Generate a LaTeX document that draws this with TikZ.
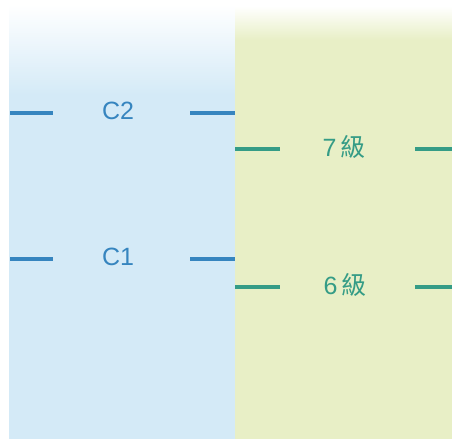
\documentclass[tikz,border=0pt]{standalone}
\usepackage{fontspec}
\setmainfont{Liberation Sans}
\newfontfamily\cjk{Noto Sans CJK TC}

\definecolor{cpanel}{HTML}{D4EAF7}
\definecolor{gpanel}{HTML}{E8EFC6}
\definecolor{ctext}{HTML}{3685BF}
\definecolor{gtext}{HTML}{359C86}

\tikzstyle{clab}=[inner sep=0pt, font=\fontsize{25}{25}\selectfont, text=ctext]
\tikzstyle{glab}=[inner sep=0pt, font=\fontsize{25}{25}\selectfont, text=gtext]
\tikzstyle{cdash}=[draw=ctext, line width=3.8pt]
\tikzstyle{gdash}=[draw=gtext, line width=3.8pt]

\begin{document}
\begin{tikzpicture}[x=1pt,y=-1pt]
        \useasboundingbox (0,0) rectangle (452,439);
        % panels
        \fill[white] (0,0) rectangle (452,439);
        \fill[cpanel] (9,95) rectangle (235,439);
        \shade[top color=white, bottom color=cpanel] (9,4) rectangle (235,95);
        \fill[gpanel] (235,40) rectangle (452,439);
        \shade[top color=white, bottom color=gpanel] (235,6) rectangle (452,40);
        %
        \draw (118,111) node[clab](c2){C2};
        \draw (118,257) node[clab](c1){C1};
        \draw (344,147) node[glab](g7){7{\hspace{0.15em}\cjk 級}};
        \draw (345,285) node[glab](g6){6{\hspace{0.15em}\cjk 級}};
        %
        \coordinate (c2a) at (10,113);  \coordinate (c2b) at (53,113);
        \coordinate (c2c) at (190,113); \coordinate (c2d) at (235,113);
        \coordinate (c1a) at (10,259);  \coordinate (c1b) at (53,259);
        \coordinate (c1c) at (190,259); \coordinate (c1d) at (235,259);
        \coordinate (g7a) at (235,149); \coordinate (g7b) at (280,149);
        \coordinate (g7c) at (415,149); \coordinate (g7d) at (452,149);
        \coordinate (g6a) at (235,287); \coordinate (g6b) at (280,287);
        \coordinate (g6c) at (415,287); \coordinate (g6d) at (452,287);
        %
        \draw[cdash] (c2a) -- (c2b) (c2c) -- (c2d);
        \draw[cdash] (c1a) -- (c1b) (c1c) -- (c1d);
        \draw[gdash] (g7a) -- (g7b) (g7c) -- (g7d);
        \draw[gdash] (g6a) -- (g6b) (g6c) -- (g6d);
\end{tikzpicture}
\end{document}
